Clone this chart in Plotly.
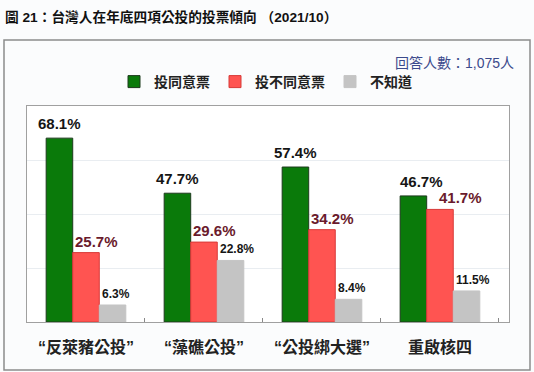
import plotly.graph_objects as go

categories = ["“反萊豬公投”", "“藻礁公投”", "“公投綁大選”", "重啟核四"]
series_names = ["投同意票", "投不同意票", "不知道"]
agree = [68.1, 47.7, 57.4, 46.7]
disagree = [25.7, 29.6, 34.2, 41.7]
unknown = [6.3, 22.8, 8.4, 11.5]

colors = ["#0a7a0a", "#ff5451", "#c4c4c4"]
edge = ["#1d3a1d", "#d83a38", "#c4c4c4"]
W = 0.225
offsets = [-1.5 * W, -0.5 * W, 0.5 * W]

LAT = "Liberation Sans, Arial, Noto Sans CJK TC, sans-serif"
CJK = "Liberation Sans, Noto Sans CJK TC, sans-serif"

# body margin is removed below, so figure pixels are screen pixels
L, T = 27, 106
PW, PH = 482, 216
R = 534 - L - PW
B = 372 - T - PH


def px_x(p):
    return (p - L) / PW


def px_y(p):
    return 1 + (T - p) / PH


fig = go.Figure()
for name, vals, c, e, off in zip(series_names, [agree, disagree, unknown], colors, edge, offsets):
    fig.add_trace(go.Bar(
        x=categories, y=vals, name=name, width=W, offset=off,
        marker=dict(color=c, line=dict(color=e, width=1)),
        hoverinfo="skip",
    ))

ann = []
for i, v in enumerate(agree):
    ann.append(dict(x=i + offsets[0] + W / 2, y=v, xref="x", yref="y", text=f"{v}%",
                    showarrow=False, xanchor="center", yanchor="bottom",
                    xshift=8 if i == 3 else 0, yshift=4,
                    font=dict(family=LAT, size=15, color="#151515", weight="bold")))
for i, v in enumerate(disagree):
    ann.append(dict(x=i + offsets[1], y=v, xref="x", yref="y", text=f"{v}%",
                    showarrow=False, xanchor="left", yanchor="bottom",
                    xshift=10 if i == 3 else 0, yshift=1,
                    font=dict(family=LAT, size=15, color="#6a1a2c", weight="bold")))
for i, v in enumerate(unknown):
    ann.append(dict(x=i + offsets[2], y=v, xref="x", yref="y", text=f"{v}%",
                    showarrow=False, xanchor="left", yanchor="bottom",
                    xshift=1, yshift=2,
                    font=dict(family=LAT, size=12, color="#151515", weight="bold")))

ann.append(dict(x=px_x(3), y=px_y(17), xref="paper", yref="paper",
                text="圖 21：台灣人在年底四項公投的投票傾向 （2021/10）",
                showarrow=False, xanchor="left", yanchor="middle",
                font=dict(family=CJK, size=13.7, color="#111111", weight="bold")))
ann.append(dict(x=px_x(516), y=px_y(63), xref="paper", yref="paper", text="回答人數：1,075人",
                showarrow=False, xanchor="right", yanchor="middle",
                font=dict(family=CJK, size=14, color="#3b4a8c")))

fig.update_layout(
    width=534, height=372,
    margin=dict(l=L, r=R, t=T, b=B, autoexpand=False),
    paper_bgcolor="#fbfcfd", plot_bgcolor="#ffffff",
    barmode="overlay",
    showlegend=True,
    legend=dict(orientation="h", x=px_x(114), y=px_y(66), xanchor="left", yanchor="top",
                font=dict(family=CJK, size=14, color="#222222", weight="bold"),
                bgcolor="rgba(0,0,0,0)", traceorder="normal"),
    annotations=ann,
    xaxis=dict(type="category", range=[-0.5, 3.585], tickson="boundaries", ticks="inside",
               ticklen=4, tickcolor="#888888", showline=True, linecolor="#a0a0a0", linewidth=1,
               mirror=True, showgrid=False, ticklabelstandoff=11,
               tickfont=dict(family=CJK, size=16, color="#222222", weight="bold")),
    yaxis=dict(range=[0, 80], dtick=20, showticklabels=False, showgrid=True,
               gridcolor="#e9edf1", gridwidth=1, zeroline=False, showline=True,
               linecolor="#a0a0a0", linewidth=1, mirror=True, ticks=""),
    shapes=[dict(type="rect", xref="paper", yref="paper",
                 x0=px_x(4), x1=px_x(530), y0=px_y(370), y1=px_y(40),
                 line=dict(color="#8c8c8c", width=1.5), fillcolor="rgba(0,0,0,0)", layer="below")],
)

fig.write_html("out.html", config={"displayModeBar": False},
               post_script="document.body.style.margin='0';document.body.style.background='#fbfcfd';")
